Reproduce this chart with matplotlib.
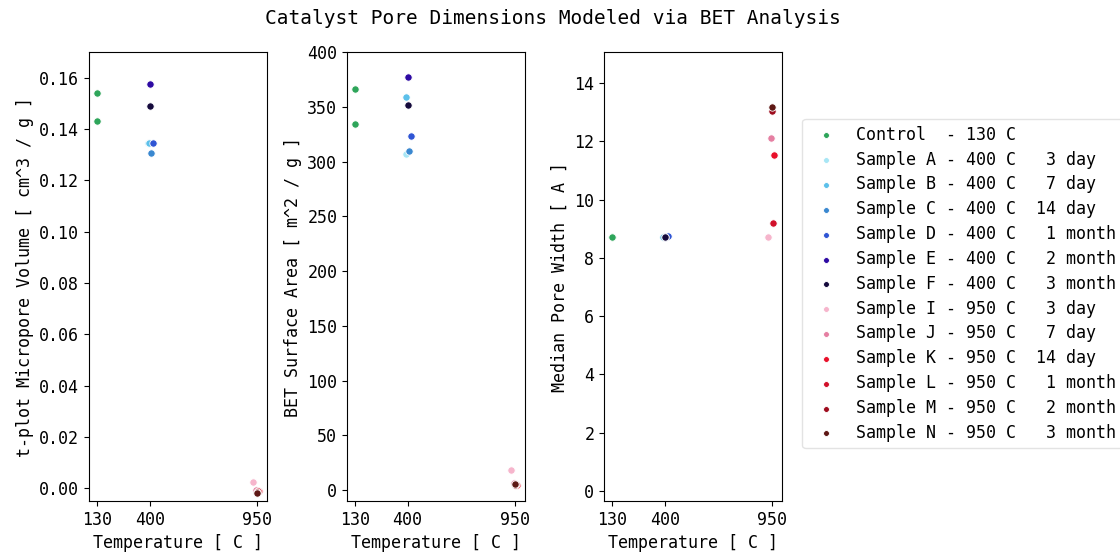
import matplotlib.pyplot as plt
import numpy as np

plt.rcParams['font.family'] = ['DejaVu Sans Mono']
plt.rcParams['font.size'] = 12

# one row per measurement (control was run twice)
sample = ["Control", "Control", "A", "B", "C", "D", "E", "F",
          "I", "J", "K", "L", "M", "N"]
temp = [130, 130, 390, 394, 407, 418, 400, 401,
        930, 948, 962, 957, 952, 950]
micro_vol = [0.1540, 0.1433, 0.1345, 0.1347, 0.1307, 0.1347, 0.1577, 0.1488,
             0.0024, -0.0008, -0.0012, -0.0010, -0.0015, -0.0018]
surf_area = [366, 334, 307, 358.5, 310, 323.6, 377, 352,
             18.5, 6.0, 5.0, 5.5, 5.0, 5.5]
pore_width = [8.72, 8.72, 8.72, 8.73, 8.72, 8.74, 8.72, 8.71,
              8.72, 12.12, 11.54, 9.20, 13.05, 13.18]

legend_labels = {
    "Control": "Control  - 130 C",
    "A": "Sample A - 400 C   3 day",
    "B": "Sample B - 400 C   7 day",
    "C": "Sample C - 400 C  14 day",
    "D": "Sample D - 400 C   1 month",
    "E": "Sample E - 400 C   2 month",
    "F": "Sample F - 400 C   3 month",
    "I": "Sample I - 950 C   3 day",
    "J": "Sample J - 950 C   7 day",
    "K": "Sample K - 950 C  14 day",
    "L": "Sample L - 950 C   1 month",
    "M": "Sample M - 950 C   2 month",
    "N": "Sample N - 950 C   3 month",
}
colors = {
    "Control": "#2ea55a",
    "A": "#a8e6f5", "B": "#5cc0ea", "C": "#3a88d0",
    "D": "#2f55d4", "E": "#2e0aa3", "F": "#150a3c",
    "I": "#f6b5cc", "J": "#e57fa2", "K": "#e8102a",
    "L": "#d1102a", "M": "#9e0c1e", "N": "#5e1815",
}

fig = plt.figure(figsize=(11.2, 5.54), dpi=100)
ax1 = fig.add_axes([0.0795, 0.0957, 0.159, 0.8104])
ax2 = fig.add_axes([0.3098, 0.0957, 0.159, 0.8104])
ax3 = fig.add_axes([0.5393, 0.0957, 0.159, 0.8104])

temp = np.array(temp)
sample = np.array(sample)
panels = [(ax1, np.array(micro_vol), "t-plot Micropore Volume [ cm^3 / g ]"),
          (ax2, np.array(surf_area), "BET Surface Area [ m^2 / g ]"),
          (ax3, np.array(pore_width), "Median Pore Width [ A ]")]

handles = []
for ax, y, ylab in panels:
    for key in legend_labels:
        m = sample == key
        h = ax.scatter(temp[m], y[m], s=28, color=colors[key],
                       edgecolor='white', linewidth=0.6,
                       label=legend_labels[key], zorder=3)
        if ax is ax1:
            handles.append(h)
    ax.set_xticks([130, 400, 950])
    ax.set_xlabel("Temperature [ C ]")
    ax.set_ylabel(ylab)

ax1.set_ylim(-0.005, 0.17)
ax2.set_ylim(-10, 400)
ax3.set_ylim(-0.35, 15.07)

fig.suptitle("Catalyst Pore Dimensions Modeled via BET Analysis",
             fontsize=14, x=0.494, y=0.983)
fig.legend(handles=handles, loc='upper left',
           bbox_to_anchor=(0.709, 0.8), markerscale=0.8,
           labelspacing=0.41, edgecolor='#dddddd')

plt.savefig("out.png")
